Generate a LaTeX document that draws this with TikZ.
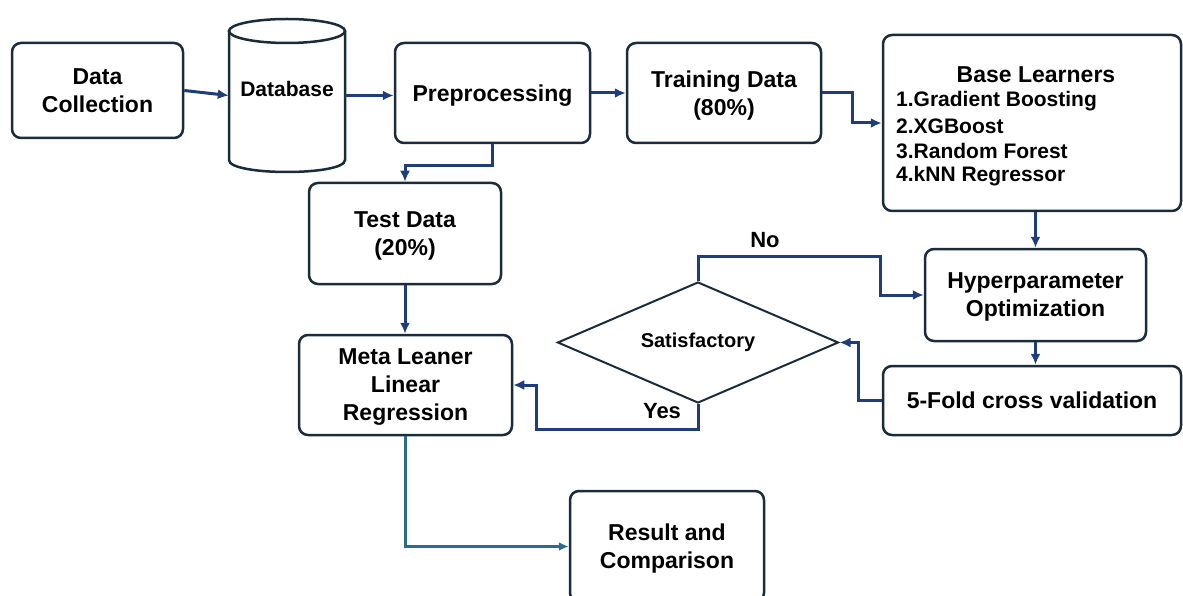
\documentclass[tikz,border=0pt]{standalone}
\usepackage{fontspec}
\setmainfont{Liberation Sans}
\usetikzlibrary{shapes.geometric,arrows.meta}
\definecolor{arrowblue}{HTML}{1F3D7A}
\definecolor{boxline}{HTML}{1A2B3C}
\definecolor{tealline}{HTML}{2B6C8E}
\tikzset{
  box/.style={draw=boxline, line width=2.5pt, rounded corners=9pt, inner sep=0pt, align=center, text depth=0pt, font=\bfseries\fontsize{23}{28}\selectfont},
  conn/.style={draw=arrowblue, line width=3pt, -{Latex[length=11pt,width=10pt]}},
  lbl/.style={font=\bfseries\fontsize{22}{26}\selectfont, inner sep=0pt},
  itemtxt/.style={anchor=west, inner sep=0pt, font=\bfseries\fontsize{21}{24}\selectfont},
}
\begin{document}
\begin{tikzpicture}[x=1pt,y=-1pt]
\useasboundingbox (0,0) rectangle (1183,596);

% nodes
\node[box, minimum width=171pt, minimum height=95pt] (dc) at (97.5,90.5) {Data\\Collection};

\node[minimum width=116pt, minimum height=129pt, inner sep=0pt] (db) at (287,95.5) {};
\draw[boxline, line width=2.5pt, fill=white] (229,31) -- (229,160) .. controls (229,176) and (345,176) .. (345,160) -- (345,31);
\draw[boxline, line width=2.5pt, fill=white] (287,31) ellipse [x radius=58, y radius=12];
\node[inner sep=0pt, font=\bfseries\fontsize{21}{24}\selectfont] (dbt) at (287,89) {Database};

\node[box, minimum width=195pt, minimum height=100pt] (pre) at (492.5,93) {Preprocessing};
\node[box, minimum width=194pt, minimum height=100pt] (train) at (724,93) {Training Data\\(80\%)};

\node[box, minimum width=298pt, minimum height=176pt] (base) at (1032,123) {};
\node[inner sep=0pt, font=\bfseries\fontsize{23}{28}\selectfont] (bh) at (1036,75) {Base Learners};
\node[itemtxt] (b1) at (896,101) {1.Gradient Boosting};
\node[itemtxt] (b2) at (896,126) {2.XGBoost};
\node[itemtxt] (b3) at (896,151) {3.Random Forest};
\node[itemtxt] (b4) at (896,176) {4.kNN Regressor};

\node[box, minimum width=192pt, minimum height=101pt] (test) at (405,233.5) {Test Data\\(20\%)};
\node[box, minimum width=221pt, minimum height=92pt] (hyper) at (1035.5,295) {Hyperparameter\\Optimization};
\node[box, minimum width=298pt, minimum height=69pt] (fold) at (1032,400.5) {5-Fold cross validation};

\node[draw=boxline, line width=2pt, diamond, aspect=2.32, minimum width=281pt, minimum height=121pt, inner sep=0pt, font=\bfseries\fontsize{20}{24}\selectfont] (sat) at (698,342.5) {Satisfactory};

\node[box, minimum width=213pt, minimum height=100pt] (meta) at (405.5,385) {Meta Leaner\\Linear\\Regression};
\node[box, minimum width=194pt, minimum height=111pt] (res) at (667,546.5) {Result and\\Comparison};

\node[lbl] (no) at (765,240) {No};
\node[lbl] (yes) at (662,411) {Yes};

% connectors
\draw[conn] (dc.east) -- (db.west);
\draw[conn] (db.east) -- (db.east -| pre.west);
\draw[conn] (pre.east) -- (train.west);
\draw[conn] (train.east) -- ++(30,0) |- (base.west);
\draw[conn] (pre.south) -- ++(0,21) -| (test.north);
\draw[conn] (hyper.north |- base.south) -- (hyper.north);
\draw[conn] (hyper.south) -- (hyper.south |- fold.north);
\draw[conn] (fold.west) -- ++(-23,0) |- (sat.east);
\draw[conn] (sat.north) -- ++(0,-25) -| ([xshift=-43pt]hyper.west) -- (hyper.west);
\draw[conn] (sat.south) -- ++(0,25) -| ([xshift=23pt]meta.east) -- (meta.east);
\draw[conn] (test.south) -- (test.south |- meta.north);
\draw[draw=tealline, line width=2.5pt, -{Latex[length=10pt,width=9pt]}] (meta.south) |- (res.west);
\end{tikzpicture}
\end{document}
